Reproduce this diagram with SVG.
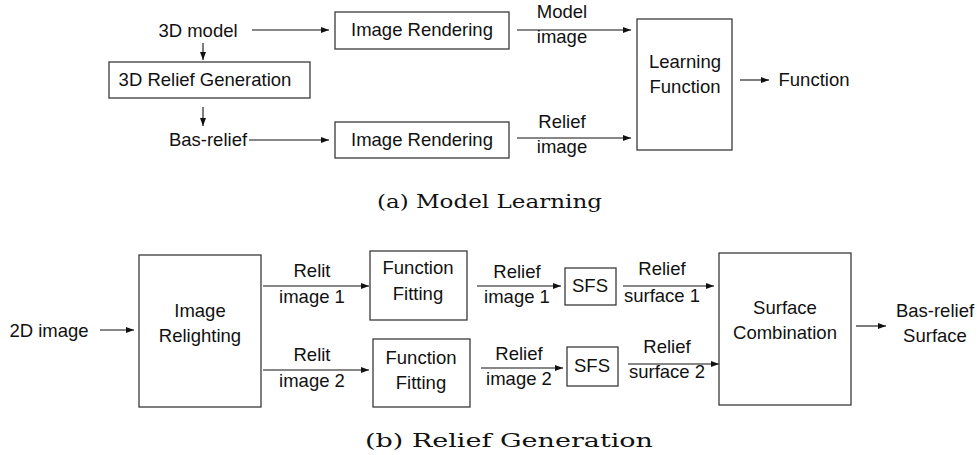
<svg xmlns="http://www.w3.org/2000/svg" width="979" height="455" viewBox="0 0 979 455">
<style>
.box{fill:#fff;stroke:#3a3a3a;stroke-width:1.3}
.t{font-family:"Liberation Sans",Arial,sans-serif;font-size:18.5px;fill:#111;text-anchor:middle}
.cap{font-family:"DejaVu Serif","Liberation Serif",serif;font-size:19px;fill:#111}
.c{stroke:#111;stroke-width:1.1;fill:none;marker-end:url(#ah)}
</style>
<defs>
<marker id="ah" markerUnits="userSpaceOnUse" markerWidth="9" markerHeight="7" refX="8" refY="3" orient="auto">
<path d="M0,0 L8,3 L0,6 z" fill="#111"/>
</marker>
</defs>
<rect width="979" height="455" fill="#fff"/>
<g id="connectors">
<line class="c" x1="252" y1="30" x2="329" y2="30"/>
<line class="c" x1="203" y1="43" x2="203" y2="60"/>
<line class="c" x1="203" y1="107" x2="203" y2="126"/>
<line class="c" x1="249" y1="140" x2="329" y2="140"/>
<line class="c" x1="517" y1="30" x2="631" y2="30"/>
<line class="c" x1="517" y1="138" x2="631" y2="138"/>
<line class="c" x1="740" y1="80" x2="769" y2="80"/>
<line class="c" x1="100" y1="330" x2="134" y2="330"/>
<line class="c" x1="263" y1="286" x2="369" y2="286"/>
<line class="c" x1="263" y1="370" x2="369" y2="370"/>
<line class="c" x1="477" y1="286" x2="561" y2="286"/>
<line class="c" x1="481" y1="368" x2="563" y2="368"/>
<line class="c" x1="623" y1="286" x2="714" y2="286"/>
<line class="c" x1="628" y1="364" x2="719" y2="364"/>
<line class="c" x1="856" y1="326" x2="886" y2="326"/>
</g>
<g id="labels">
<text class="t" x="198" y="37">3D model</text>
<text class="t" x="208" y="146">Bas-relief</text>
<text class="t" x="562" y="18">Model</text>
<text class="t" x="562" y="43">image</text>
<text class="t" x="562" y="128">Relief</text>
<text class="t" x="562" y="153">image</text>
<text class="t" x="814" y="86">Function</text>
<text class="t" x="49" y="337">2D image</text>
<text class="t" x="312" y="277">Relit</text>
<text class="t" x="312" y="303">image 1</text>
<text class="t" x="312" y="361">Relit</text>
<text class="t" x="312" y="387">image 2</text>
<text class="t" x="517" y="278">Relief</text>
<text class="t" x="517" y="303">image 1</text>
<text class="t" x="519" y="360">Relief</text>
<text class="t" x="519" y="385">image 2</text>
<text class="t" x="662" y="275">Relief</text>
<text class="t" x="662" y="302">surface 1</text>
<text class="t" x="667" y="353">Relief</text>
<text class="t" x="667" y="378">surface 2</text>
<text class="t" x="935" y="317">Bas-relief</text>
<text class="t" x="935" y="342">Surface</text>
</g>
<g id="render1"><rect class="box" x="335" y="12" width="174" height="37"/><text class="t" x="422" y="36">Image Rendering</text></g>
<g id="relief3d"><rect class="box" x="109" y="62" width="201" height="36"/><text class="t" x="205" y="86">3D Relief Generation</text></g>
<g id="render2"><rect class="box" x="335" y="122" width="174" height="36"/><text class="t" x="422" y="146">Image Rendering</text></g>
<g id="learning"><rect class="box" x="637" y="19" width="95" height="131"/><text class="t" x="685" y="68">Learning</text><text class="t" x="685" y="93">Function</text></g>
<g id="relighting"><rect class="box" x="139" y="255" width="122" height="152"/><text class="t" x="200" y="317">Image</text><text class="t" x="200" y="342">Relighting</text></g>
<g id="fit1"><rect class="box" x="370" y="251" width="97" height="69"/><text class="t" x="418" y="274">Function</text><text class="t" x="418" y="300">Fitting</text></g>
<g id="fit2"><rect class="box" x="373" y="339" width="97" height="68"/><text class="t" x="421" y="364">Function</text><text class="t" x="421" y="389">Fitting</text></g>
<g id="sfs1"><rect class="box" x="565" y="268" width="51" height="37"/><text class="t" x="590" y="292">SFS</text></g>
<g id="sfs2"><rect class="box" x="567" y="347" width="51" height="39"/><text class="t" x="592" y="372">SFS</text></g>
<g id="combination"><rect class="box" x="719" y="253" width="132" height="152"/><text class="t" x="785" y="314">Surface</text><text class="t" x="785" y="339">Combination</text></g>
<g id="captions">
<text class="cap" x="377" y="208" textLength="225" lengthAdjust="spacingAndGlyphs">(a)  Model Learning</text>
<text class="cap" x="365" y="447" textLength="288" lengthAdjust="spacingAndGlyphs">(b)  Relief Generation</text>
</g>
</svg>
